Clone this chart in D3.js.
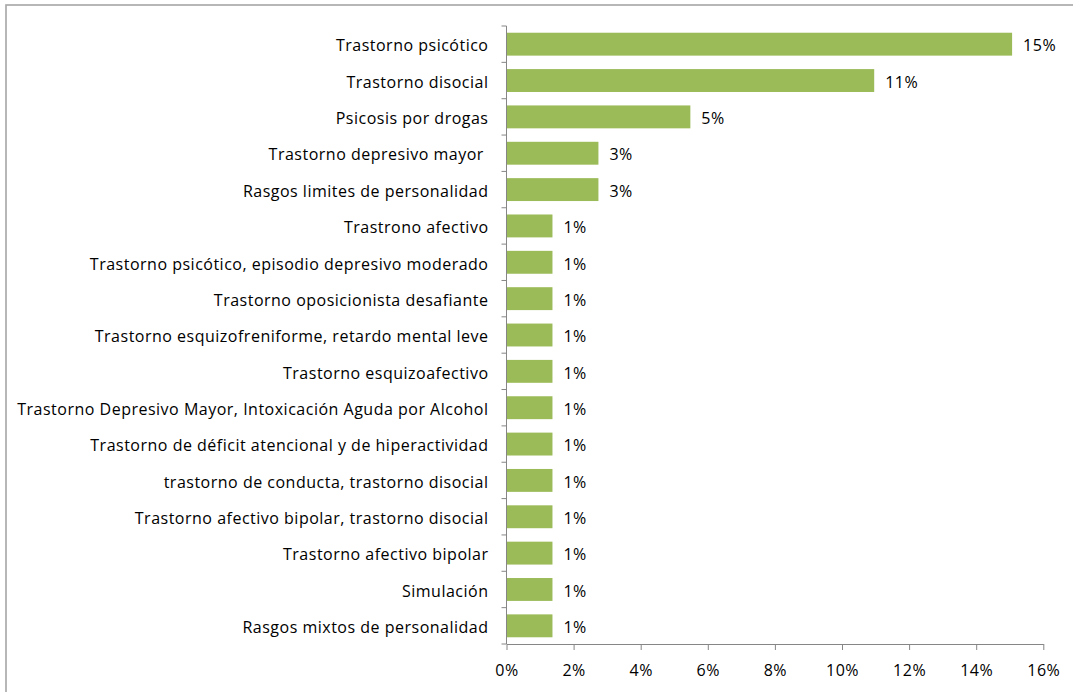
<!DOCTYPE html>
<html>
<head>
<meta charset="utf-8">
<script src="https://cdn.jsdelivr.net/npm/d3@7"></script>
<style>
  html, body { margin: 0; padding: 0; background: #fff; }
  svg { display: block; }
  text { font-family: "Open Sans", Lato, sans-serif; fill: #000; letter-spacing: 0.5px; white-space: pre; }
</style>
</head>
<body>
<svg id="chart" width="1073" height="692"></svg>
<script>
const categories = [
  "Trastorno psicótico",
  "Trastorno disocial",
  "Psicosis por drogas",
  "Trastorno depresivo mayor ",
  "Rasgos limites de personalidad",
  "Trastrono afectivo",
  "Trastorno psicótico, episodio depresivo moderado",
  "Trastorno oposicionista desafiante",
  "Trastorno esquizofreniforme, retardo mental leve",
  "Trastorno esquizoafectivo",
  "Trastorno Depresivo Mayor, Intoxicación Aguda por Alcohol",
  "Trastorno de déficit atencional y de hiperactividad",
  "trastorno de conducta, trastorno disocial",
  "Trastorno afectivo bipolar, trastorno disocial",
  "Trastorno afectivo bipolar",
  "Simulación",
  "Rasgos mixtos de personalidad"
];
const values = [0.1507, 0.1096, 0.0548, 0.0274, 0.0274, 0.0137, 0.0137, 0.0137, 0.0137, 0.0137, 0.0137, 0.0137, 0.0137, 0.0137, 0.0137, 0.0137, 0.0137];
const xTicks = [0, 0.02, 0.04, 0.06, 0.08, 0.10, 0.12, 0.14, 0.16];

(function () {
const svg = d3.select("#chart");
const FONT = "'Open Sans', Lato, sans-serif";
const FS = 16;

// outer border
svg.append("rect")
  .attr("x", 6).attr("y", 5)
  .attr("width", 1100).attr("height", 720)
  .attr("fill", "none")
  .attr("stroke", "#a6a6a6")
  .attr("stroke-width", 1.6);

const pL = 506.5, pR = 1043.3, pT = 26, pB = 644;

const x = d3.scaleLinear().domain([0, 0.16]).range([pL, pR]);
const y = d3.scaleBand().domain(categories).range([pT, pB]).paddingInner(0.37).paddingOuter(0.185);

// bars
svg.append("g").selectAll("rect")
  .data(values)
  .join("rect")
  .attr("x", x(0) + 0.5)
  .attr("y", (d, i) => y(categories[i]))
  .attr("width", d => x(d) - x(0) - 0.5)
  .attr("height", y.bandwidth())
  .attr("fill", "#9bbb59");

// value labels
svg.append("g").selectAll("text")
  .data(values)
  .join("text")
  .attr("x", d => x(d) + 11)
  .attr("y", (d, i) => y(categories[i]) + y.bandwidth() / 2 + 1.5)
  .attr("dy", "0.36em")
  .attr("font-size", FS)
  .text(d => Math.round(d * 100) + "%");

// x axis
const xAxis = d3.axisBottom(x).tickValues(xTicks).tickFormat(d => Math.round(d * 100) + "%").tickSize(6).tickSizeOuter(0);
const gx = svg.append("g").attr("transform", `translate(0,${pB})`).call(xAxis);
gx.select(".domain").attr("stroke", "#868686");
gx.selectAll(".tick line").attr("stroke", "#868686");
gx.selectAll(".tick text").attr("font-size", FS).attr("y", 21).attr("dy", "0.71em").attr("fill", "#000")
  .style("font-family", FONT);

// y axis: line with ticks between categories
const gy = svg.append("g");
gy.append("line")
  .attr("x1", pL).attr("x2", pL)
  .attr("y1", pT).attr("y2", pB)
  .attr("stroke", "#868686");
const step = (pB - pT) / categories.length;
const boundaries = d3.range(categories.length + 1).map(i => pT + i * step);
gy.selectAll("line.t")
  .data(boundaries)
  .join("line")
  .attr("class", "t")
  .attr("x1", pL - 5).attr("x2", pL)
  .attr("y1", d => d).attr("y2", d => d)
  .attr("stroke", "#868686");
gy.selectAll("text")
  .data(categories)
  .join("text")
  .attr("x", pL - 18)
  .attr("y", d => y(d) + y.bandwidth() / 2 + 1.5)
  .attr("dy", "0.36em")
  .attr("text-anchor", "end")
  .attr("font-size", FS)
  .text(d => d);
})();
</script>
</body>
</html>
